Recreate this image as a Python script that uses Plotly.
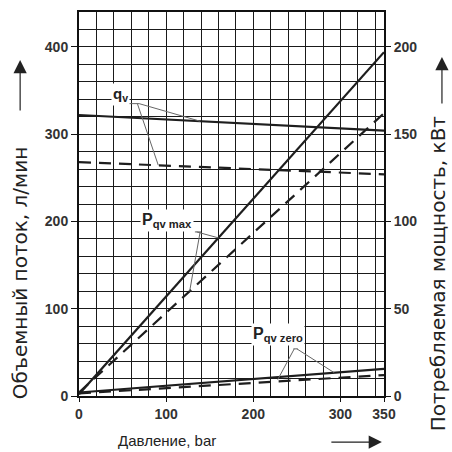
import numpy as np
import plotly.graph_objects as go

# ---- data ----
pressure = [0, 350]                 # bar
qv_solid = [322, 304]               # л/мин
qv_dashed = [268, 254]              # л/мин
p_max_solid = [1, 197]              # кВт
p_max_dashed = [2, 162]             # кВт
p_zero_solid = [2, 15.5]            # кВт
p_zero_dashed = [1.5, 12]           # кВт

x_ticks = [0, 100, 200, 300, 350]
y_ticks = [0, 100, 200, 300, 400]
y2_ticks = [0, 50, 100, 150, 200]

X_MAX, Y_MAX, Y2_MAX = 350, 440, 220
K = Y_MAX / Y2_MAX  # left units per kW

LINE = "#1e1e1e"
GRID = "#1a1a1a"
LEAD = "#666666"

fig = go.Figure()

def add(y, dash, yaxis="y"):
    fig.add_trace(go.Scatter(
        x=pressure, y=y, mode="lines", yaxis=yaxis,
        line=dict(color=LINE, width=2.2, dash=dash),
        showlegend=False, hoverinfo="skip"))

add(qv_solid, "solid")
add(qv_dashed, "12px,8px")
add(p_max_solid, "solid", "y2")
add(p_max_dashed, "12px,8px", "y2")
add(p_zero_solid, "solid", "y2")
add(p_zero_dashed, "12px,8px", "y2")

def on(series, b, kw=False):
    v = float(np.interp(b, pressure, series))
    return v * K if kw else v

shapes = []
def seg(x0, y0, x1, y1):
    shapes.append(dict(type="line", xref="x", yref="y", x0=x0, y0=y0, x1=x1, y1=y1,
                       line=dict(color=LEAD, width=1)))

# q_v leaders
seg(55, 335, 69, 335)
seg(69, 335, 139, on(qv_solid, 139))
seg(67, 335, 91, on(qv_dashed, 91))
# P_qv max leaders
seg(133, 188, 140, 188)
seg(135, 188, 160, on(p_max_solid, 160, True))
seg(139, 188, 127, on(p_max_dashed, 127, True))
# P_qv zero leaders
seg(246, 54, 251, 54)
seg(247, 54, 228, on(p_zero_dashed, 228, True) + 2)
seg(250, 54, 293, on(p_zero_solid, 293, True))

ann = []
def label(text, x, y, size):
    ann.append(dict(text=text, x=x, y=y, xref="x", yref="y", showarrow=False,
                    xanchor="center", yanchor="middle",
                    font=dict(family="Liberation Sans", size=size, color="#222", weight="bold"),
                    bgcolor="white", borderpad=1))

label("q<sub>v</sub>", 48, 346, 15)
label("P<sub>qv max</sub>", 101, 201, 16)
label("P<sub>qv zero</sub>", 228, 71, 16)

vt_font = dict(family="DejaVu Sans", color="#222", size=20)
ann.append(dict(text="Объемный поток, л/мин", xref="paper", yref="paper",
                x=-0.193, y=0.32, xanchor="center", yanchor="middle",
                textangle=-90, showarrow=False, font=vt_font))
ann.append(dict(text="Потребляемая мощность, кВт", xref="paper", yref="paper",
                x=1.176, y=0.319, xanchor="center", yanchor="middle",
                textangle=-90, showarrow=False, font=vt_font))
ann.append(dict(text="Давление, bar", xref="paper", yref="paper",
                x=0.29, y=-0.115, xanchor="center", yanchor="middle", showarrow=False,
                font=dict(family="Liberation Sans", color="#222", size=15)))

def arrow(x, y, ax, ay):
    ann.append(dict(text="", xref="paper", yref="paper", x=x, y=y, ax=ax, ay=ay,
                    showarrow=True, arrowhead=2, arrowsize=2.2, arrowwidth=1.2,
                    arrowcolor="#222"))

arrow(-0.193, 0.875, 0, 52)
arrow(1.19, 0.883, 0, 48)
arrow(0.993, -0.12, -52, 0)

tick_font = dict(family="Liberation Sans", size=14, color="#333", weight="bold")

fig.update_layout(
    width=452, height=452,
    margin=dict(l=79, r=68, t=12, b=56, autoexpand=False),
    paper_bgcolor="white", plot_bgcolor="white",
    shapes=shapes, annotations=ann,
    xaxis=dict(range=[0, X_MAX], tickmode="array", tickvals=x_ticks,
               showgrid=True, gridcolor=GRID, gridwidth=1.2, automargin=False,
               minor=dict(tickmode="array", tickvals=list(range(0, X_MAX, 20)),
                          showgrid=True, gridcolor=GRID, gridwidth=1.2, ticklen=0),
               showline=True, linecolor="#111", linewidth=2, mirror=True,
               ticks="outside", ticklen=4, tickcolor="#111",
               tickfont=tick_font, zeroline=False, fixedrange=True),
    yaxis=dict(range=[0, Y_MAX], tickmode="array", tickvals=y_ticks,
               showgrid=True, gridcolor=GRID, gridwidth=1.2, automargin=False,
               minor=dict(tickmode="array", tickvals=list(range(0, Y_MAX + 1, 20)),
                          showgrid=True, gridcolor=GRID, gridwidth=1.2, ticklen=0),
               showline=True, linecolor="#111", linewidth=2, mirror=True,
               ticks="outside", ticklen=6, tickcolor="#111",
               tickfont=tick_font, zeroline=False, fixedrange=True),
    yaxis2=dict(range=[0, Y2_MAX], tickmode="array", tickvals=y2_ticks,
                overlaying="y", side="right", showgrid=False, automargin=False,
                ticks="outside", ticklen=6, tickcolor="#111",
                tickfont=tick_font, zeroline=False, fixedrange=True),
)

fig.write_html("out.html", config={"displayModeBar": False},
               post_script="document.body.style.margin='0';document.body.style.overflow='hidden';")
